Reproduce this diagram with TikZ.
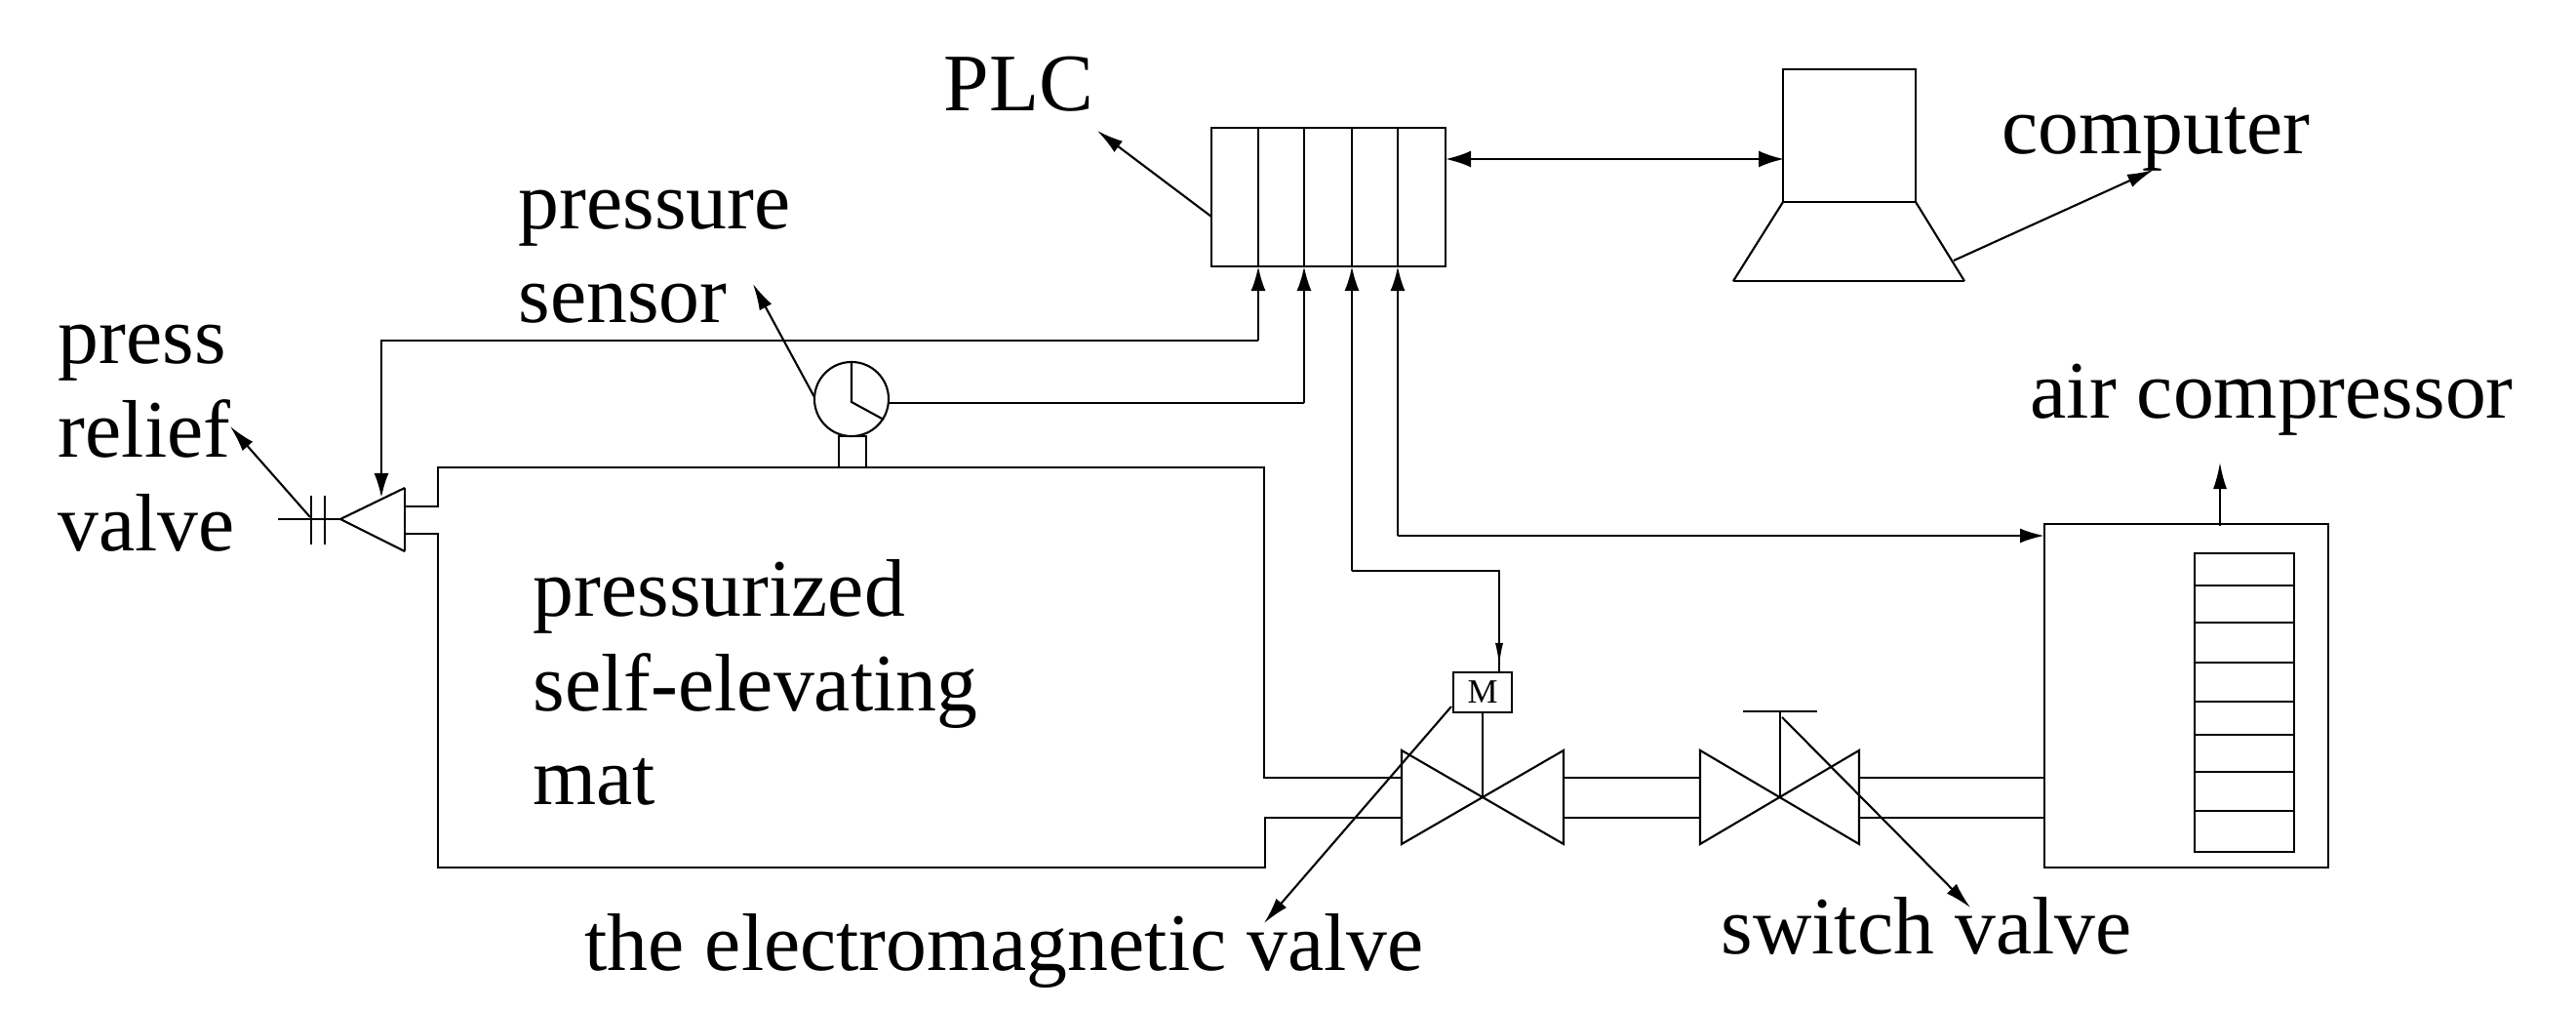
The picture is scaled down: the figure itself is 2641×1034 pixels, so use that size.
\documentclass[tikz,border=0pt]{standalone}
\usepackage{fontspec}
\setmainfont{Liberation Serif}
\usetikzlibrary{arrows.meta}
\tikzset{
  lab/.style={anchor=base west,inner sep=0pt,font=\fontsize{23.8}{28}\selectfont},
  box/.style={draw,rectangle,inner sep=0pt,line width=0.7pt},
  wire/.style={line width=0.7pt},
  thinl/.style={line width=0.6pt},
  tip/.style={-{Latex[length=0.25cm,width=0.15cm]}},
  pointer/.style={thinl,-{Latex[length=0.27cm,width=0.14cm]}}
}
\begin{document}
\begin{tikzpicture}[x=0.01cm,y=-0.01cm]
\useasboundingbox (0,0) rectangle (2641,1034);
\node[lab] (plclab) at (967,114) {PLC};
\node[lab] (pressure) at (531,235) {pressure};
\node[lab] (sensorlab) at (531,331) {sensor};
\node[lab] (press) at (59,373) {press};
\node[lab] (relief) at (59,469) {relief};
\node[lab] (valvelab) at (59,565) {valve};
\node[lab] (pressurized) at (546,632) {pressurized};
\node[lab] (self) at (546,729) {self-elevating};
\node[lab] (matlab) at (546,825) {mat};
\node[lab] (emvalve) at (599,995) {the electromagnetic valve};
\node[lab] (switch) at (1764,978) {switch valve};
\node[lab] (aircomp) at (2081,429) {air compressor};
\node[lab] (computer) at (2052,158) {computer};

\node[box,minimum width=2.4cm,minimum height=1.42cm] (plc) at (1362,202) {};
\draw[thinl] (1290,131) -- (1290,273);
\draw[thinl] (1337,131) -- (1337,273);
\draw[thinl] (1386,131) -- (1386,273);
\draw[thinl] (1433,131) -- (1433,273);
\coordinate (in1) at (1290,273);
\coordinate (in2) at (1337,273);
\coordinate (in3) at (1386,273);
\coordinate (in4) at (1433,273);

\node[box,minimum width=1.36cm,minimum height=1.36cm] (screen) at (1896,139) {};
\draw[thinl] (1828,207) -- (1777,288);
\draw[wire] (1777,288) -- (2014,288);
\draw[thinl] (2014,288) -- (1964,207);
\coordinate (base) at (2003,267);
\coordinate (comptip) at (2208,174);

\node[box,minimum width=2.91cm,minimum height=3.52cm] (comp) at (2241.5,713) {};
\node[box,minimum width=1.02cm,minimum height=3.06cm] (cooler) at (2301,720) {};
\draw[wire] (2250,600) -- (2352,600);
\draw[wire] (2250,638) -- (2352,638);
\draw[wire] (2250,679) -- (2352,679);
\draw[wire] (2250,719) -- (2352,719);
\draw[wire] (2250,753) -- (2352,753);
\draw[wire] (2250,791) -- (2352,791);
\draw[wire] (2250,831) -- (2352,831);
\coordinate (compin) at (2096,549);
\coordinate (comptop) at (2276,539);
\coordinate (airtip) at (2276,474);

\draw[wire] (415,519) -- (449,519) -- (449,479) -- (1296,479) -- (1296,797) -- (1437,797);
\draw[wire] (415,547) -- (449,547) -- (449,889) -- (1297,889) -- (1297,838) -- (1437,838);

\node[draw,circle,inner sep=0pt,thinl,minimum size=0.76cm] (gauge) at (873,409) {};
\coordinate (gaugeout) at (911,413);
\draw[thinl] (873,372) -- (873,412) -- (906,430);
\draw[wire] (860,479) -- (860,447) -- (888,447) -- (888,479);

\draw[wire] (415,500) -- (415,565);
\draw[thinl] (415,500) -- (349,532) -- (415,565);
\draw[thinl] (349,532) -- (285,532);
\draw[thinl] (319,508) -- (319,558);
\draw[thinl] (333,508) -- (333,558);
\coordinate (reliefin) at (391,510);
\coordinate (reliefout) at (318,530);
\coordinate (relieftip) at (236,437);

\node[box,minimum width=0.6cm,minimum height=0.41cm,font=\fontsize{9.9}{12}\selectfont] (motor) at (1520,709.5) {M};
\coordinate (motorin) at (1537,689);
\draw[wire] (motor.south) -- (1520,817);
\draw[thinl] (1437,769) -- (1437,865) -- (1603,769) -- (1603,865) -- cycle;
\draw[thinl] (1743,769) -- (1743,865) -- (1906,769) -- (1906,865) -- cycle;
\draw[wire] (1825,729) -- (1825,817);
\draw[wire] (1787,729) -- (1863,729);
\draw[wire] (1603,797) -- (1743,797);
\draw[wire] (1603,838) -- (1743,838);
\draw[wire] (1906,797) -- (2096,797);
\draw[wire] (1906,838) -- (2096,838);

\draw[wire,{Latex[length=0.26cm,width=0.17cm]}-{Latex[length=0.26cm,width=0.17cm]}] (1482,163) -- (1829,163);
\draw[wire,tip] (1290,349) -- (in1);
\draw[wire,tip] (1290,349) -- (391,349) -- (reliefin);
\draw[wire] (gaugeout) -- (1337,413);
\draw[wire,tip] (1337,413) -- (in2);
\draw[wire,tip] (1386,585) -- (in3);
\draw[wire] (1386,585) -- (1537,585) -- (motorin);
\draw[wire,-{Latex[length=0.25cm,width=0.08cm]}] (1537,585) -- (1537,684);
\draw[wire,tip] (1433,549) -- (in4);
\draw[wire,tip] (1433,549) -- (compin);

\draw[pointer] (1242,222) -- (1125,134);
\draw[pointer] (835,407) -- (772,291);
\draw[pointer] (reliefout) -- (relieftip);
\draw[pointer] (base) -- (comptip);
\draw[pointer] (comptop) -- (airtip);
\draw[pointer] (1488,724) -- (1296,946);
\draw[pointer] (1827,735) -- (2020,930);
\end{tikzpicture}
\end{document}
